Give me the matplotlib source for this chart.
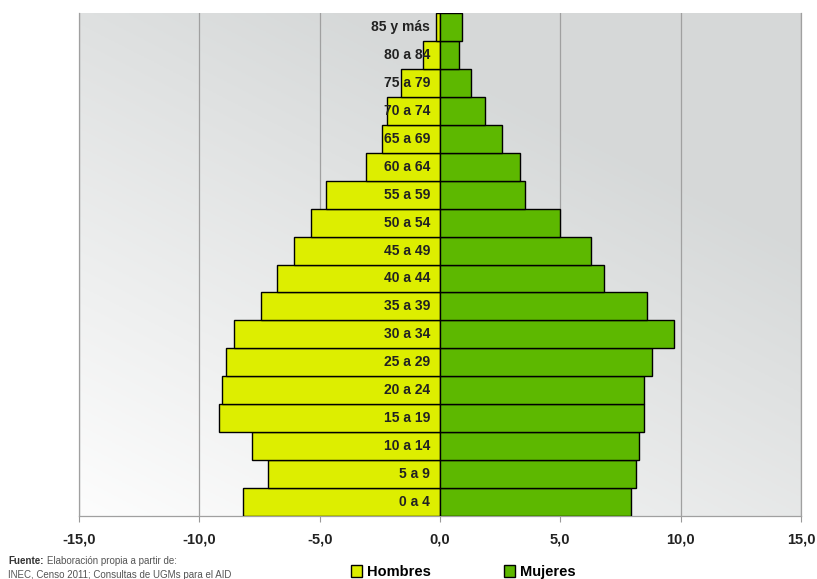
import numpy as np
import matplotlib
matplotlib.use("Agg")
import matplotlib.pyplot as plt
from matplotlib.patches import Patch

plt.rcParams["font.family"] = ["Liberation Sans", "DejaVu Sans"]

# grupos de edad, de abajo hacia arriba
grupos = ["0 a 4", "5 a 9", "10 a 14", "15 a 19", "20 a 24", "25 a 29",
          "30 a 34", "35 a 39", "40 a 44", "45 a 49", "50 a 54", "55 a 59",
          "60 a 64", "65 a 69", "70 a 74", "75 a 79", "80 a 84", "85 y más"]

# porcentaje de poblacion por sexo
hombres = [8.2, 7.15, 7.8, 9.18, 9.04, 8.9, 8.58, 7.42, 6.76, 6.06, 5.38, 4.74,
           3.06, 2.43, 2.2, 1.6, 0.72, 0.18]
mujeres = [7.94, 8.14, 8.25, 8.46, 8.46, 8.81, 9.74, 8.6, 6.82, 6.27, 4.99, 3.54,
           3.33, 2.57, 1.86, 1.29, 0.78, 0.9]

ticks = [-15, -10, -5, 0, 5, 10, 15]

col_h = "#DDEE00"
col_m = "#5DB800"

fig = plt.figure(figsize=(8.17, 5.79), dpi=100)
ax = fig.add_axes([79/817, 63/579, 722/817, 503/579])

# fondo degradado del area de grafico
nx, ny = 200, 200
gx, gy = np.meshgrid(np.linspace(0, 1, nx), np.linspace(0, 1, ny))
t = np.clip(0.55 * gx + 0.75 * gy + 0.05, 0, 1)
top = np.array([0.84, 0.85, 0.85])
bot = np.array([1.0, 1.0, 1.0])
img = bot[None, None, :] * (1 - t[..., None]) + top[None, None, :] * t[..., None]
ax.imshow(img, extent=[-15, 15, -0.5, len(grupos) - 0.5], origin="lower",
          aspect="auto", zorder=0)

y = np.arange(len(grupos))
ax.barh(y, [-v for v in hombres], height=1.0, color=col_h, edgecolor="black",
        linewidth=1.0, zorder=3)
ax.barh(y, mujeres, height=1.0, color=col_m, edgecolor="black",
        linewidth=1.0, zorder=3)

for yi, g in zip(y, grupos):
    ax.text(-0.4, yi, g, ha="right", va="center", fontsize=10,
            fontweight="bold", color="#222222", zorder=4)

ax.set_xlim(-15, 15)
ax.set_ylim(-0.5, len(grupos) - 0.5)
ax.set_xticks(ticks)
ax.set_xticklabels([f"{v:.1f}".replace(".", ",") for v in ticks],
                   fontsize=10.5, fontweight="bold", color="#222222")
ax.set_yticks([])
ax.tick_params(axis="x", length=4, color="#999999", pad=8)
for v in ticks:
    ax.axvline(v, color="#A0A0A0", linewidth=0.9, zorder=1)
for s in ax.spines.values():
    s.set_color("#A0A0A0")
    s.set_linewidth(0.9)
ax.spines["top"].set_visible(False)

fig.text(8/817, 1 - 561/579, "Fuente:", fontsize=7, fontweight="bold",
         va="center", color="#333333")
fig.text(47/817, 1 - 561/579, "Elaboración propia a partir de:", fontsize=7,
         va="center", color="#555555")
fig.text(8/817, 1 - 575/579, "INEC, Censo 2011; Consultas de UGMs para el AID",
         fontsize=7, va="center", color="#555555")

handles = [Patch(facecolor=col_h, edgecolor="black", label="Hombres"),
           Patch(facecolor=col_m, edgecolor="black", label="Mujeres")]
fig.legend(handles=handles, loc="center", bbox_to_anchor=(463/817, 1 - 572/579),
           ncol=2, frameon=False, prop={"size": 10.5, "weight": "bold"},
           handlelength=0.8, handleheight=0.8, handletextpad=0.3,
           columnspacing=5.0)

fig.savefig("out.png", dpi=100)
